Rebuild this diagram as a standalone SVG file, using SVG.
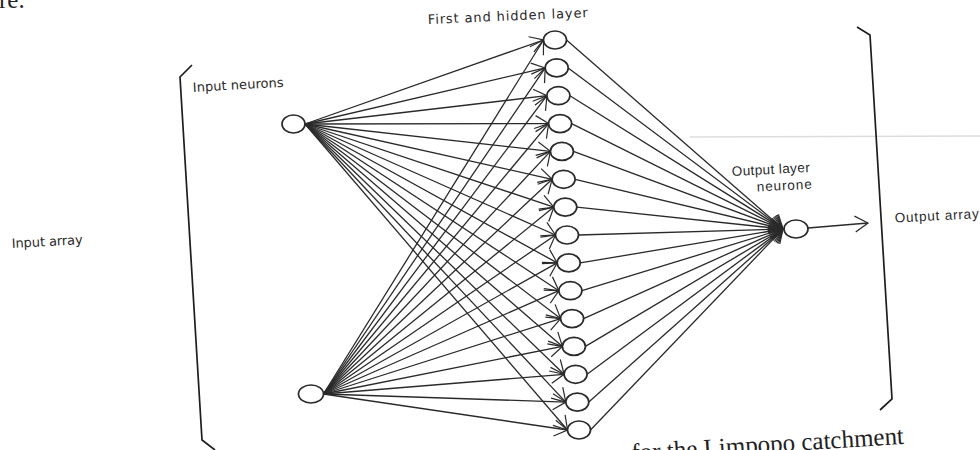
<svg xmlns="http://www.w3.org/2000/svg" width="980" height="450" viewBox="0 0 980 450">
  <style>
    .lbl { font-family: "DejaVu Sans", "Liberation Sans", sans-serif; font-size: 13px; fill: #2a2a2a; }
    .lbl2 { font-family: "Liberation Sans", Arial, sans-serif; font-size: 13.5px; fill: #2a2a2a; }
    .page { font-family: "Liberation Serif", "Times New Roman", serif; font-size: 25px; fill: #222; }
    .neuron { fill: #fff; stroke: #2a2a2a; stroke-width: 1.7; }
    .link { fill: none; stroke: #2a2a2a; stroke-width: 1.3; marker-end: url(#arr); }
    .bracket { fill: none; stroke: #1e1e1e; stroke-width: 1.7; stroke-linejoin: miter; }
  </style>
  <defs>
    <marker id="arr" viewBox="-16 -10 18 20" refX="0" refY="0" markerWidth="18" markerHeight="20" markerUnits="userSpaceOnUse" orient="auto" overflow="visible">
      <path d="M-13,-8 L0,0 L-13,8" fill="none" stroke="#2a2a2a" stroke-width="1.2"/>
    </marker>
  </defs>

  <rect width="980" height="450" fill="#fff"/>

  <!-- faint scan line across the right part of the page -->
  <line x1="690" y1="137" x2="980" y2="136" stroke="#dcdcdc" stroke-width="1.5"/>

  <!-- running page text -->
  <text class="page" x="-1" y="8">re.</text>
  <text class="page" x="632" y="461" transform="rotate(-3.6 632 461)">for the Limpopo catchment</text>

  <!-- brackets around input and output arrays -->
  <polyline class="bracket" points="192,65 180,77 202,440 215,450"/>
  <polyline class="bracket" points="857,27 870,35 892,399 880,410"/>

  <!-- labels -->
  <text class="lbl" x="428" y="24" textLength="160" transform="rotate(-2.5 428 24)">First and hidden layer</text>
  <text class="lbl" x="193" y="92" textLength="91" transform="rotate(-3.3 193 92)">Input neurons</text>
  <text class="lbl" x="12" y="248" textLength="71" transform="rotate(-3.2 12 248)">Input array</text>
  <text class="lbl2" x="732" y="176" textLength="78" transform="rotate(-3 732 176)">Output layer</text>
  <text class="lbl2" x="757" y="191.5" textLength="55" transform="rotate(-3 757 191.5)">neurone</text>
  <text class="lbl2" x="895" y="222.5" textLength="84" transform="rotate(-3 895 222.5)">Output array</text>

  <g id="connectors">
    <!-- input neuron 1 to hidden layer -->
    <path class="link" d="M305,124 L543.5,40"/>
    <path class="link" d="M305,124 L545.2,67.9"/>
    <path class="link" d="M305,124 L546.9,95.7"/>
    <path class="link" d="M305,124 L548.6,123.6"/>
    <path class="link" d="M305,124 L550.4,151.4"/>
    <path class="link" d="M305,124 L552.1,179.3"/>
    <path class="link" d="M305,124 L553.8,207.1"/>
    <path class="link" d="M305,124 L555.5,235"/>
    <path class="link" d="M305,124 L557.2,262.9"/>
    <path class="link" d="M305,124 L558.9,290.7"/>
    <path class="link" d="M305,124 L560.6,318.6"/>
    <path class="link" d="M305,124 L562.4,346.4"/>
    <path class="link" d="M305,124 L564.1,374.3"/>
    <path class="link" d="M305,124 L565.8,402.1"/>
    <path class="link" d="M305,124 L567.5,430"/>
    <!-- input neuron 2 to hidden layer -->
    <path class="link" d="M323.5,394 L543.5,40"/>
    <path class="link" d="M323.5,394 L545.2,67.9"/>
    <path class="link" d="M323.5,394 L546.9,95.7"/>
    <path class="link" d="M323.5,394 L548.6,123.6"/>
    <path class="link" d="M323.5,394 L550.4,151.4"/>
    <path class="link" d="M323.5,394 L552.1,179.3"/>
    <path class="link" d="M323.5,394 L553.8,207.1"/>
    <path class="link" d="M323.5,394 L555.5,235"/>
    <path class="link" d="M323.5,394 L557.2,262.9"/>
    <path class="link" d="M323.5,394 L558.9,290.7"/>
    <path class="link" d="M323.5,394 L560.6,318.6"/>
    <path class="link" d="M323.5,394 L562.4,346.4"/>
    <path class="link" d="M323.5,394 L564.1,374.3"/>
    <path class="link" d="M323.5,394 L565.8,402.1"/>
    <path class="link" d="M323.5,394 L567.5,430"/>
    <!-- hidden layer to output neuron -->
    <path class="link" d="M566.5,40 L783,229"/>
    <path class="link" d="M568.2,67.9 L783,229"/>
    <path class="link" d="M569.9,95.7 L783,229"/>
    <path class="link" d="M571.6,123.6 L783,229"/>
    <path class="link" d="M573.4,151.4 L783,229"/>
    <path class="link" d="M575.1,179.3 L783,229"/>
    <path class="link" d="M576.8,207.1 L783,229"/>
    <path class="link" d="M578.5,235 L783,229"/>
    <path class="link" d="M580.2,262.9 L783,229"/>
    <path class="link" d="M581.9,290.7 L783,229"/>
    <path class="link" d="M583.6,318.6 L783,229"/>
    <path class="link" d="M585.4,346.4 L783,229"/>
    <path class="link" d="M587.1,374.3 L783,229"/>
    <path class="link" d="M588.8,402.1 L783,229"/>
    <path class="link" d="M590.5,430 L783,229"/>
    <!-- output -->
    <path class="link" d="M808,228 L868,223"/>
  </g>

  <g id="input-1"><ellipse class="neuron" cx="293.5" cy="124" rx="11.5" ry="9"/></g>
  <g id="input-2"><ellipse class="neuron" cx="311" cy="394" rx="12.5" ry="9"/></g>

  <g id="hidden-1"><ellipse class="neuron" cx="555" cy="40" rx="11.5" ry="9"/></g>
  <g id="hidden-2"><ellipse class="neuron" cx="556.7" cy="67.9" rx="11.5" ry="9"/></g>
  <g id="hidden-3"><ellipse class="neuron" cx="558.4" cy="95.7" rx="11.5" ry="9"/></g>
  <g id="hidden-4"><ellipse class="neuron" cx="560.1" cy="123.6" rx="11.5" ry="9"/></g>
  <g id="hidden-5"><ellipse class="neuron" cx="561.9" cy="151.4" rx="11.5" ry="9"/></g>
  <g id="hidden-6"><ellipse class="neuron" cx="563.6" cy="179.3" rx="11.5" ry="9"/></g>
  <g id="hidden-7"><ellipse class="neuron" cx="565.3" cy="207.1" rx="11.5" ry="9"/></g>
  <g id="hidden-8"><ellipse class="neuron" cx="567" cy="235" rx="11.5" ry="9"/></g>
  <g id="hidden-9"><ellipse class="neuron" cx="568.7" cy="262.9" rx="11.5" ry="9"/></g>
  <g id="hidden-10"><ellipse class="neuron" cx="570.4" cy="290.7" rx="11.5" ry="9"/></g>
  <g id="hidden-11"><ellipse class="neuron" cx="572.1" cy="318.6" rx="11.5" ry="9"/></g>
  <g id="hidden-12"><ellipse class="neuron" cx="573.9" cy="346.4" rx="11.5" ry="9"/></g>
  <g id="hidden-13"><ellipse class="neuron" cx="575.6" cy="374.3" rx="11.5" ry="9"/></g>
  <g id="hidden-14"><ellipse class="neuron" cx="577.3" cy="402.1" rx="11.5" ry="9"/></g>
  <g id="hidden-15"><ellipse class="neuron" cx="579" cy="430" rx="11.5" ry="9"/></g>

  <g id="output"><ellipse class="neuron" cx="796" cy="229" rx="12" ry="9"/></g>
</svg>
